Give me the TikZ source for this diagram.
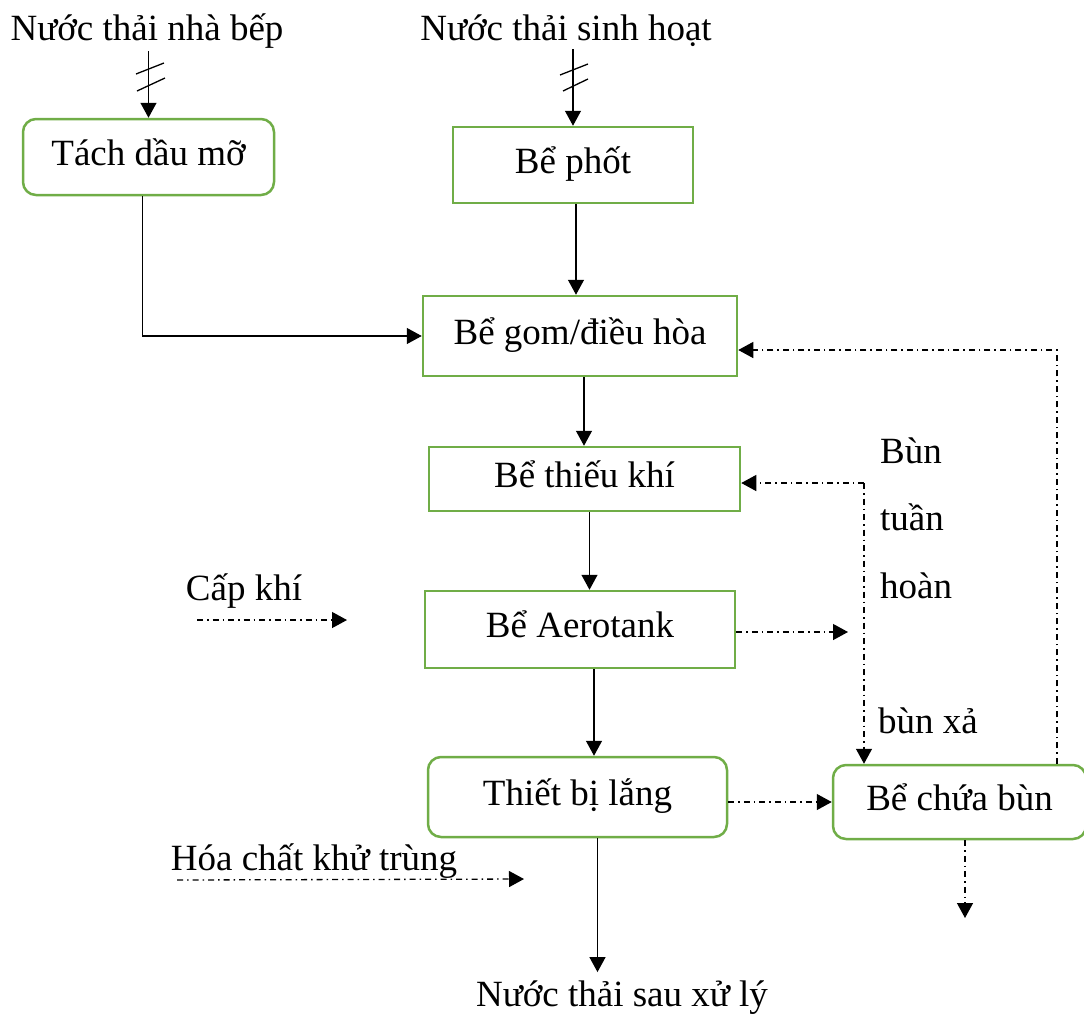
\documentclass[tikz,border=0pt]{standalone}
\usepackage{fontspec}
\setmainfont{Liberation Serif}
\usetikzlibrary{arrows.meta}
\definecolor{boxgreen}{RGB}{112,173,71}
\begin{document}
\begin{tikzpicture}[x=1pt,y=-1pt,
  font=\fontsize{37}{44}\selectfont,
  stage/.style={draw=boxgreen,line width=2.5pt,inner sep=0pt,text height=24pt,text depth=8pt},
  roundstage/.style={stage,rounded corners=13pt},
  flow/.style={line width=1.3pt,-{Triangle[length=15pt,width=16pt]}},
  sludge/.style={line width=1.3pt,dash pattern=on 6pt off 4pt on 1.5pt off 4pt,-{Triangle[length=15pt,width=16pt]}},
  label/.style={anchor=base,inner sep=0pt},
  sidelabel/.style={anchor=base west,inner sep=0pt},
  tick/.style={line width=1.3pt}]
\useasboundingbox (0,0) rectangle (1084,1013);

% treatment stages
\node[roundstage,minimum width=251pt,minimum height=76pt] (tach)  at (148.5,157) {Tách dầu mỡ};
\node[stage,minimum width=240pt,minimum height=76pt]      (phot)  at (573,165)   {Bể phốt};
\node[stage,minimum width=314pt,minimum height=80pt]      (gom)   at (580,336)   {Bể gom/điều hòa};
\node[stage,minimum width=311pt,minimum height=64pt]      (thieu) at (584.5,479) {Bể thiếu khí};
\node[stage,minimum width=310pt,minimum height=77pt]      (aero)  at (580,629.5) {Bể Aerotank};
\node[roundstage,minimum width=299pt,minimum height=80pt] (lang)  at (577.5,797) {Thiết bị lắng};
\node[roundstage,minimum width=253pt,minimum height=74pt] (chua)  at (959.5,802) {Bể chứa bùn};

% inputs, output and side labels
\node[label] (src1) at (147,40)   {Nước thải nhà bếp};
\node[label] (src2) at (566,40)   {Nước thải sinh hoạt};
\node[label] (out)  at (622,1006) {Nước thải sau xử lý};
\node[label] (air)  at (244,600)  {Cấp khí};
\node[label] (chem) at (314,870)  {Hóa chất khử trùng};
\node[sidelabel] (r1) at (880,463) {Bùn};
\node[sidelabel] (r2) at (880,530) {tuần};
\node[sidelabel] (r3) at (880,598) {hoàn};
\node[sidelabel] (xa) at (878,733) {bùn xả};

% free ends of the dash-dot lines
\coordinate (aerotip) at (848,632);
\coordinate (rc)      at (864,483);
\coordinate (rt)      at (1057,350);
\coordinate (dump)    at (965,918);
\coordinate (ck1)     at (197,620);
\coordinate (ck2)     at (347,620);
\coordinate (hc1)     at (177,880);
\coordinate (hc2)     at (524,879);

% main water line
\draw[flow] ([yshift=-3pt]src1.south -| tach.north) -- (tach.north);
\draw[flow] ([yshift=-3pt]src2.south -| phot.north) -- (phot.north);
\draw[flow] ([xshift=3pt]phot.south) -- ([xshift=3pt]phot.south |- gom.north);
\draw[flow] ([xshift=-6pt]tach.south) |- (gom.west);
\draw[flow] ([xshift=4pt]gom.south) -- ([xshift=4pt]gom.south |- thieu.north);
\draw[flow] ([xshift=5pt]thieu.south) -- ([xshift=5pt]thieu.south |- aero.north);
\draw[flow] ([xshift=14pt]aero.south) -- ([xshift=14pt]aero.south |- lang.north);
\draw[flow] ([xshift=20pt]lang.south) -- ([xshift=20pt,yshift=8pt]lang.south |- out.north);

% double ticks on the inlet pipes
\draw[tick] (136,74) -- (164,63);
\draw[tick] (137,91) -- (165,78);
\draw[tick] (560,75) -- (588,64);
\draw[tick] (563,91) -- (588,79);

% sludge and dosing lines
\draw[sludge] (aero.east |- aerotip) -- (aerotip);
\draw[sludge] (rc) -- (thieu.east |- rc);
\draw[sludge] (rc) -- (rc |- chua.north);
\draw[sludge] (chua.north -| rt) -- (rt) -- (gom.east |- rt);
\draw[sludge] (lang.east |- chua.west) -- (chua.west);
\draw[sludge] (chua.south -| dump) -- (dump);
\draw[sludge] (ck1) -- (ck2);
\draw[sludge] (hc1) -- (hc2);
\end{tikzpicture}
\end{document}
